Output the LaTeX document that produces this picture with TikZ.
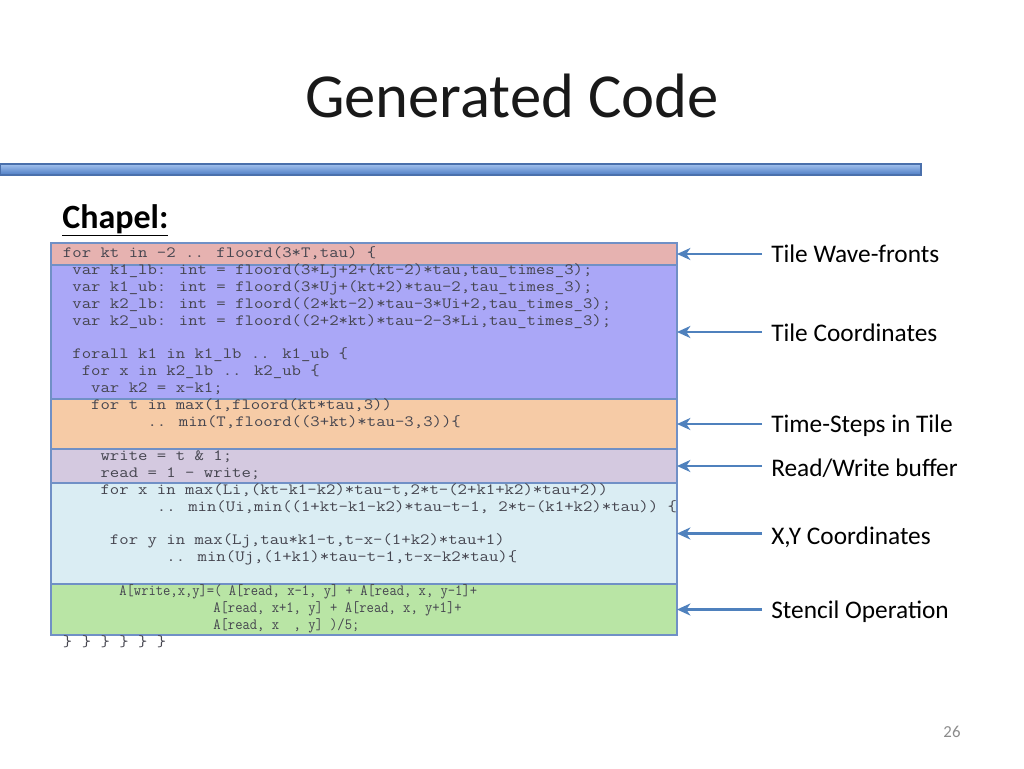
\documentclass[tikz,border=0pt]{standalone}
\usepackage{fontspec}
\setmainfont{Carlito}
\newfontfamily\codefont[FakeStretch=1.165]{Latin Modern Mono}
\newfontfamily\stencilfont[FakeStretch=0.905]{Latin Modern Mono}
\usetikzlibrary{arrows.meta, positioning}

\definecolor{barlight}{HTML}{A3C2EE}
\definecolor{bardark}{HTML}{4D7CC4}
\definecolor{barline}{HTML}{4A70AC}
\definecolor{bandline}{HTML}{7090C6}
\definecolor{wavefill}{HTML}{E6B2B0}
\definecolor{tilefill}{HTML}{AAA7F7}
\definecolor{timefill}{HTML}{F6CBA6}
\definecolor{bufffill}{HTML}{D4C9E0}
\definecolor{xyfill}{HTML}{DAEDF3}
\definecolor{stencilfill}{HTML}{B9E5A5}
\definecolor{codegray}{HTML}{45454F}
\definecolor{ptrblue}{HTML}{4F81BD}
\definecolor{pagegray}{HTML}{8C8C8C}

% leading blanks of a code line, in character cells
\newcommand{\cind}[1]{\hspace*{#1\fontcharwd\font32 }}

\begin{document}
\begin{tikzpicture}[x=0.75pt, y=-0.75pt,
    band/.style={draw=bandline, line width=0.9pt, minimum width=469.5pt, inner sep=0pt, outer sep=0pt, anchor=north west},
    code/.style={font=\codefont\fontsize{11.75pt}{12.75pt}\selectfont, text=codegray, inner sep=0pt, anchor=base west},
    lbl/.style={font=\fontsize{19pt}{22pt}\selectfont, inner sep=0pt, anchor=base west},
    ptr/.style={draw=ptrblue, line width=2.2pt, -{Stealth[length=10pt, width=9pt, inset=3pt]}, shorten <=6.75pt}]
    \useasboundingbox (0,0) rectangle (1024,768);

    \node (title) [anchor=base, font=\fontsize{47pt}{56pt}\selectfont, text=black!90] at (512,117) {Generated Code};
    \shade[top color=barlight, bottom color=bardark, draw=barline, line width=0.8pt] (0,164) rectangle (921,175);

    \node (chapel) [anchor=base west, inner sep=0pt, font=\fontsize{25.5pt}{30pt}\selectfont] at (62,228) {\textbf{\underline{Chapel:}}};

    % coloured bands behind the code
    \node (wave) [band, fill=wavefill, minimum height=16.5pt] at (51,243) {};
    \node (tile) [band, fill=tilefill, minimum height=100.5pt, below=0pt of wave] {};
    \node (time) [band, fill=timefill, minimum height=37.5pt, below=0pt of tile] {};
    \node (buff) [band, fill=bufffill, minimum height=25.5pt, below=0pt of time] {};
    \node (xy) [band, fill=xyfill, minimum height=75.75pt, below=0pt of buff] {};
    \node (stencil) [band, fill=stencilfill, minimum height=38.25pt, below=0pt of xy] {};

    % the code, one node per line
    \foreach \n/\txt in {
        1/{for kt in -2 .. floord(3*T,tau) \{},
        2/{\cind{1}var k1\_lb: int = floord(3*Lj+2+(kt-2)*tau,tau\_times\_3);},
        3/{\cind{1}var k1\_ub: int = floord(3*Uj+(kt+2)*tau-2,tau\_times\_3);},
        4/{\cind{1}var k2\_lb: int = floord((2*kt-2)*tau-3*Ui+2,tau\_times\_3);},
        5/{\cind{1}var k2\_ub: int = floord((2+2*kt)*tau-2-3*Li,tau\_times\_3);},
        7/{\cind{1}forall k1 in k1\_lb .. k1\_ub \{},
        8/{\cind{2}for x in k2\_lb .. k2\_ub \{},
        9/{\cind{3}var k2 = x-k1;},
        10/{\cind{3}for t in max(1,floord(kt*tau,3))},
        11/{\cind{9}.. min(T,floord((3+kt)*tau-3,3))\{},
        13/{\cind{4}write = t \& 1;},
        14/{\cind{4}read = 1 - write;},
        15/{\cind{4}for x in max(Li,(kt-k1-k2)*tau-t,2*t-(2+k1+k2)*tau+2))},
        16/{\cind{10}.. min(Ui,min((1+kt-k1-k2)*tau-t-1, 2*t-(k1+k2)*tau)) \{},
        18/{\cind{5}for y in max(Lj,tau*k1-t,t-x-(1+k2)*tau+1)},
        19/{\cind{11}.. min(Uj,(1+k1)*tau-t-1,t-x-k2*tau)\{},
        21/{\cind{6}{\stencilfont A[write,x,y]=( A[read, x-1, y] + A[read, x, y-1]+}},
        22/{\cind{16}{\stencilfont A[read, x+1, y] + A[read, x, y+1]+}},
        23/{\cind{16}{\stencilfont A[read, x~~, y] )/5;}},
        24/{\} \} \} \} \} \}}}
        \node (ln\n) [code] at (62.7,{257.5+16.9*(\n-1)}) {\txt};

    % labels and pointers
    \node (lblwave) [lbl] at (771,262) {Tile Wave-fronts};
    \node (lbltile) [lbl] at (771,341) {Tile Coordinates};
    \node (lbltime) [lbl] at (771,432) {Time-Steps in Tile};
    \node (lblbuff) [lbl] at (771,476) {Read/Write buffer};
    \node (lblxy) [lbl] at (771,544) {X,Y Coordinates};
    \node (lblstencil) [lbl] at (771,618) {Stencil Operation};

    \draw[ptr] (wave.east -| lblwave.west) -- (wave.east);
    \draw[ptr] (tile.east -| lbltile.west) -- (tile.east);
    \draw[ptr] (time.east -| lbltime.west) -- (time.east);
    \draw[ptr] (buff.east -| lblbuff.west) -- (buff.east);
    \draw[ptr] (xy.east -| lblxy.west) -- (xy.east);
    \draw[ptr] (stencil.east -| lblstencil.west) -- (stencil.east);

    \node (pagenum) [anchor=base, text=pagegray, font=\fontsize{12.6pt}{15pt}\selectfont] at (952,737) {26};
\end{tikzpicture}
\end{document}
